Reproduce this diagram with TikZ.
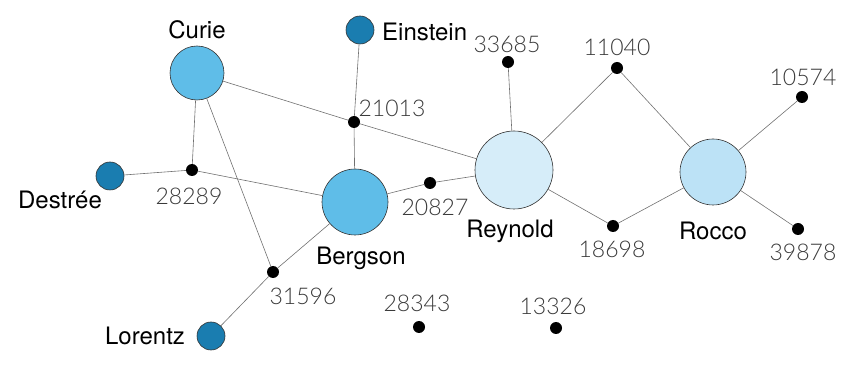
\documentclass[tikz,border=0pt]{standalone}
\usepackage{fontspec}
\setmainfont{TeX Gyre Heros}
\newfontfamily\numfont{Lato Light}
\definecolor{cmid}{HTML}{5FBDE8}
\definecolor{cdark}{HTML}{1A7DB0}
\definecolor{clight}{HTML}{D6EDF9}
\definecolor{crocco}{HTML}{BCE2F6}
\definecolor{numgray}{HTML}{3A3A3A}
\definecolor{edgegray}{HTML}{707070}
\begin{document}
\begin{tikzpicture}[x=1pt,y=-1pt,
  person/.style={circle,draw=black!80,line width=0.6pt,inner sep=0pt},
  bigperson/.style={person,fill=cmid,minimum size=#1},
  smallperson/.style={person,fill=cdark,minimum size=28pt},
  dotnode/.style={circle,fill=black,inner sep=0pt,minimum size=12pt},
  nametext/.style={font=\fontsize{24}{26}\selectfont,text=black,inner sep=0pt},
  numtext/.style={font=\numfont\fontsize{23}{26}\selectfont,text=numgray,inner sep=0pt},
  edgeline/.style={draw=edgegray,line width=0.6pt}]
\useasboundingbox (0,0) rectangle (863,366);
% nodes
\node[bigperson=54pt] (curie) at (197,73) {};
\node[smallperson] (einstein) at (360,30) {};
\node[smallperson] (destree) at (110,176) {};
\node[smallperson] (lorentz) at (211,336) {};
\node[bigperson=66pt] (bergson) at (355,202) {};
\node[person,fill=clight,minimum size=78pt] (reynold) at (514,170) {};
\node[person,fill=crocco,minimum size=66pt] (rocco) at (713,172) {};
\node[dotnode] (n21013) at (354,122) {};
\node[dotnode] (n28289) at (192,170) {};
\node[dotnode] (n20827) at (430,183) {};
\node[dotnode] (n33685) at (508,62) {};
\node[dotnode] (n11040) at (617,68) {};
\node[dotnode] (n18698) at (613,226) {};
\node[dotnode] (n10574) at (802,97) {};
\node[dotnode] (n39878) at (798,229) {};
\node[dotnode] (n31596) at (273,272) {};
\node[dotnode] (n28343) at (419,327) {};
\node[dotnode] (n13326) at (556,328) {};
% edges
\path[edgeline] (curie) -- (n28289);
\path[edgeline] (curie) -- (n21013);
\path[edgeline] (n21013) -- (reynold);
\path[edgeline] (curie) -- (n31596);
\path[edgeline] (einstein) -- (n21013);
\path[edgeline] (n21013) -- (bergson);
\path[edgeline] (destree) -- (n28289);
\path[edgeline] (n28289) -- (bergson);
\path[edgeline] (bergson) -- (n20827);
\path[edgeline] (n20827) -- (reynold);
\path[edgeline] (bergson) -- (n31596);
\path[edgeline] (n31596) -- (lorentz);
\path[edgeline] (reynold) -- (n33685);
\path[edgeline] (reynold) -- (n11040);
\path[edgeline] (reynold) -- (n18698);
\path[edgeline] (n11040) -- (rocco);
\path[edgeline] (n18698) -- (rocco);
\path[edgeline] (rocco) -- (n10574);
\path[edgeline] (rocco) -- (n39878);
% labels
\node[nametext] (lcurie) at (197,30) {Curie};
\node[nametext,anchor=west] (leinstein) at (382,32) {Einstein};
\node[nametext] (ldestree) at (60,200) {Destrée};
\node[nametext] (llorentz) at (145,336) {Lorentz};
\node[nametext] (lbergson) at (361,258) {Bergson};
\node[nametext] (lreynold) at (510,231) {Reynold};
\node[nametext] (lrocco) at (713,231) {Rocco};
\node[numtext] (l21013) at (392,108) {21013};
\node[numtext] (l28289) at (189,196) {28289};
\node[numtext] (l20827) at (435,207) {20827};
\node[numtext] (l33685) at (507,44) {33685};
\node[numtext] (l11040) at (617,47) {11040};
\node[numtext] (l18698) at (612,249) {18698};
\node[numtext] (l10574) at (803,77) {10574};
\node[numtext] (l39878) at (803,252) {39878};
\node[numtext] (l31596) at (303,296) {31596};
\node[numtext] (l28343) at (417,303) {28343};
\node[numtext] (l13326) at (553,306) {13326};
\end{tikzpicture}
\end{document}
